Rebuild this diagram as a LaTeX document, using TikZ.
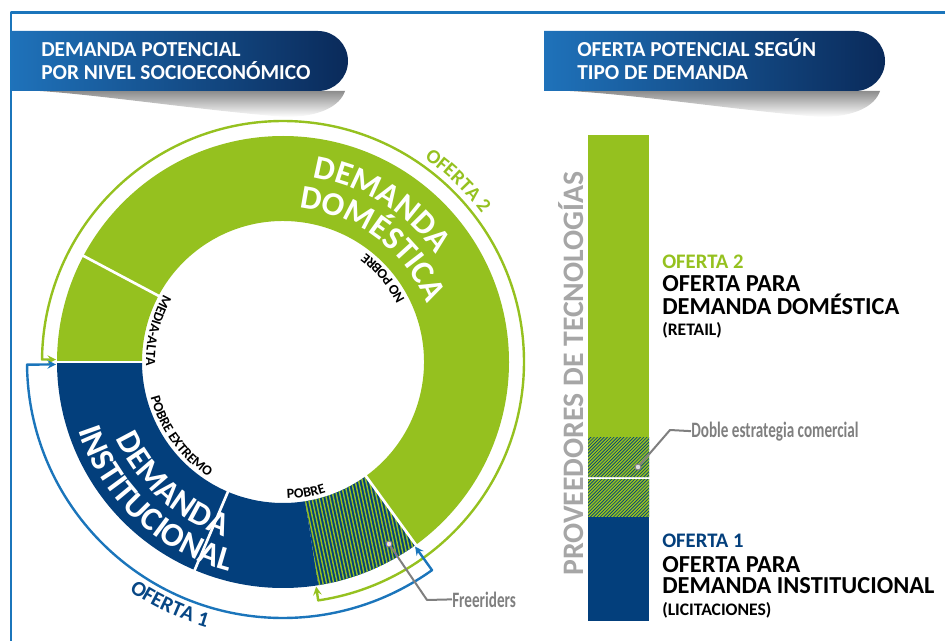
\documentclass[tikz,border=0pt]{standalone}
\usepackage{fontspec}
\setmainfont{Carlito}
\usetikzlibrary{decorations.text}
\definecolor{verde}{HTML}{95C11F}
\definecolor{azul}{HTML}{033F7C}
\definecolor{celeste}{HTML}{1B75BB}
\definecolor{bandaA}{HTML}{1F72BA}
\definecolor{bandaB}{HTML}{0A2A5A}
\definecolor{gris}{HTML}{7F7F7F}
\definecolor{grisclaro}{HTML}{A6A6A6}
% sector del anillo: angulo inicial, angulo final, color
\newcommand{\sector}[3]{\fill[#3] (#1:\rin) arc[start angle=#1, end angle=#2, radius=\rin] -- (#2:\rout) arc[start angle=#2, end angle=#1, radius=\rout] -- cycle;}
% texto curvo: radio, desde, hasta, color, tamano, texto
\newcommand{\curva}[6]{\path[decorate, decoration={text along path, text align=center, text color=#4, text={|\bfseries\fontsize{#5}{#5}\selectfont|#6}}] (#2:#1) arc[start angle=#2, end angle=#3, radius=#1];}
\begin{document}
\begin{tikzpicture}[x=0.75pt, y=0.75pt, >=stealth, line join=round,
  titulo/.style={text=white, font=\bfseries\fontsize{16}{19}\selectfont, anchor=base west, inner sep=0},
  linea/.style={font=\bfseries\fontsize{18.3}{22}\selectfont, anchor=base west, inner sep=0},
  oferta/.style={font=\bfseries\fontsize{15.5}{18}\selectfont, anchor=base west, inner sep=0},
  nota/.style={font=\bfseries\fontsize{13.2}{16}\selectfont, anchor=base west, inner sep=0},
  llamada/.style={text=gris, font=\bfseries\fontsize{16.5}{18}\selectfont, anchor=base west, inner sep=0},
  guia/.style={gris, line width=1.5pt},
  punto/.style={circle, draw=gris, fill=gray!25, line width=0.8pt, inner sep=0, minimum size=4.5pt},
  flecha/.style={<->, line width=1.8pt}]
  \def\rin{141} \def\rout{226} % radios del anillo
  \useasboundingbox (0,0) rectangle (945,-641);
  % marco y titulos
  \draw[celeste, line width=2pt] (11,-641) -- (11,-12.5) -- (945,-12.5);
  \shade[top color=black!45, bottom color=white] (40,-91) -- (345,-91) .. controls (340,-106) and (320,-117) .. (285,-117) .. controls (200,-110) and (100,-95) .. (40,-91) -- cycle;
  \shade[top color=black!45, bottom color=white] (570,-91) -- (880,-91) .. controls (875,-106) and (855,-117) .. (820,-117) .. controls (735,-110) and (640,-95) .. (570,-91) -- cycle;
  \shade[left color=bandaA, right color=bandaB] (11,-31) -- (318,-31) arc[start angle=90, end angle=-90, radius=30] -- (11,-91) -- cycle;
  \shade[left color=bandaA, right color=bandaB] (544,-31) -- (855,-31) arc[start angle=90, end angle=-90, radius=30] -- (544,-91) -- cycle;
  \node[titulo] (tituloA) at (41,-57) {DEMANDA POTENCIAL};
  \node[titulo] (tituloB) at (41,-80) {POR NIVEL SOCIOECONÓMICO};
  \node[titulo] (tituloC) at (577,-57) {OFERTA POTENCIAL SEGÚN};
  \node[titulo] (tituloD) at (577,-80) {TIPO DE DEMANDA};
  % anillo
  \begin{scope}[shift={(283,-362)}]
    \sector{306}{540}{verde}
    \sector{180}{279}{azul}
    \begin{scope}
      \clip (279:\rin) arc[start angle=279, end angle=306, radius=\rin] -- (306:\rout) arc[start angle=306, end angle=279, radius=\rout] -- cycle;
      \fill[azul] (0,-100) rectangle (160,-240);
      \foreach \i in {-40,-36.4,...,160} \draw[verde, line width=1.1pt] (\i,-100) -- ++(30,-140);
    \end{scope}
    \foreach \a in {152,180,247,306} \draw[white, line width=2pt] (\a:\rin-3) -- (\a:\rout+3);
    % ofertas
    \draw[flecha, verde] (179.4:\rout+1) -- (179.4:241) arc[start angle=179.4, end angle=-81.6, radius=241] -- (-81.6:\rout+1);
    \draw[flecha, celeste] (180.6:\rout+1) -- (180.6:256) arc[start angle=180.6, end angle=305.6, radius=256] -- (305.6:\rout+1);
    \curva{248}{71}{21}{verde}{15}{OFERTA 2}
    \curva{276}{220}{270}{azul!85!celeste}{16}{OFERTA 1}
    % textos del anillo
    \curva{187}{108}{8}{white}{25}{DEMANDA}
    \curva{155}{108}{-2}{white}{25}{DOMÉSTICA}
    \curva{184}{178}{278}{white}{25}{DEMANDA}
    \curva{216}{177}{277}{white}{25}{INSTITUCIONAL}
    \curva{137}{5}{75}{black}{10.5}{NO POBRE}
    \curva{137}{131}{201}{black}{10.5}{MEDIA-ALTA}
    \curva{137}{181}{251}{black}{10.5}{POBRE EXTREMO}
    \curva{137}{245}{315}{black}{10.5}{POBRE}
  \end{scope}
  % barra de proveedores
  \fill[verde] (588,-135) rectangle (649,-437);
  \begin{scope}
    \clip (588,-437) rectangle (649,-477) (588,-479) rectangle (649,-517);
    \fill[azul] (580,-430) rectangle (660,-520);
    \foreach \i in {490,493.3,...,660} \draw[verde, line width=1pt] (\i,-520) -- ++(95,95);
  \end{scope}
  \fill[azul] (588,-517) rectangle (649,-621);
  \node[rotate=90, anchor=base, inner sep=0, text=grisclaro, font=\bfseries\fontsize{22.3}{26}\selectfont] (proveedores) at (583,-373.5) {PROVEEDORES DE TECNOLOGÍAS};
  % textos de la derecha
  \node[oferta, text=verde] (oferta2) at (662,-269) {OFERTA 2};
  \node[linea] (para2) at (662,-292) {OFERTA PARA};
  \node[linea] (domestica) at (662,-315) {DEMANDA DOMÉSTICA};
  \node[nota] (retail) at (662,-335) {(RETAIL)};
  \node[oferta, text=azul] (oferta1) at (662,-547) {OFERTA 1};
  \node[linea] (para1) at (662,-572) {OFERTA PARA};
  \node[linea] (institucional) at (662,-593) {DEMANDA INSTITUCIONAL};
  \node[nota] (licitaciones) at (662,-615) {(LICITACIONES)};
  % llamadas
  \node[llamada] (doble) at (691,-437) {\scalebox{0.69}[1]{Doble estrategia comercial}};
  \node[llamada] (freeriders) at (452,-607) {\scalebox{0.69}[1]{Freeriders}};
  \coordinate (codoD) at (670,-430);
  \coordinate (codoF) at (427,-600);
  \node[punto] (puntoD) at (638,-467) {};
  \node[punto] (puntoF) at (389,-544) {};
  \draw[guia] (puntoD) -- (codoD) -- (doble.west);
  \draw[guia] (puntoF) -- (codoF) -- (freeriders.west);
\end{tikzpicture}
\end{document}
